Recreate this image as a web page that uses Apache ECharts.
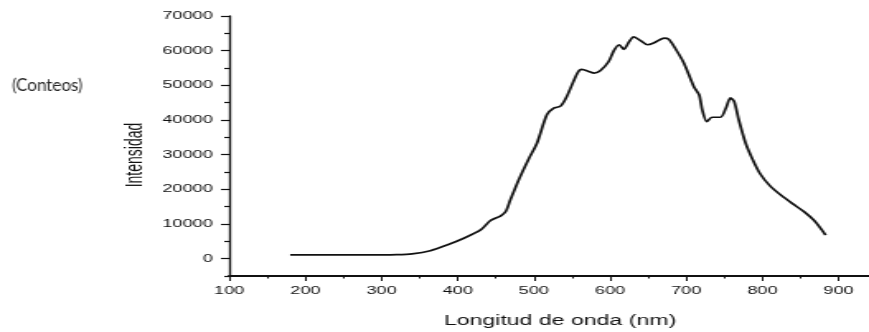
<!DOCTYPE html>
<html>
<head>
<meta charset="utf-8">
<script src="https://cdn.jsdelivr.net/npm/echarts@6/dist/echarts.min.js"></script>
<style>
html,body{margin:0;padding:0;background:#fff;overflow:hidden;width:869px;height:332px;}
#wrap{position:absolute;left:0;top:0;width:527px;height:332px;transform:scaleX(1.649);transform-origin:0 0;}
</style>
</head>
<body>
<div id="wrap"></div>
<script>
// Data
const wavelength = [180,200,250,300,320,340,364,386,408,430,443,456,463,469,480,493,504,517,526,535,543,557,563,572,579,587,598,605,612,618,625,631,640,649,658,671,677,684,697,710,717,721,727,734,745,752,758,763,769,778,787,797,810,825,840,855,868,878,883];
const intensity  = [1100,1100,1100,1100,1150,1400,2300,3950,5900,8300,11000,12300,13600,16900,22700,28700,33300,41500,43400,44000,46700,53500,54600,54000,53500,54200,56800,60000,61700,60400,62600,64000,62900,61700,62300,63600,63300,61200,56400,49600,47200,42900,39500,40800,40800,43400,46400,45300,40000,33300,28700,24500,21000,18200,15800,13500,11000,8300,6800];
const xTickValues = [100,200,300,400,500,600,700,800,900];
const xMinorValues = [150,250,350,450,550,650,750,850];
const yTickValues = [0,10000,20000,30000,40000,50000,60000,70000];
const yMinorValues = [-5000,5000,15000,25000,35000,45000,55000,65000];
const xTitle = 'Longitud de onda (nm)';
const yTitle = 'Intensidad';
const unitLabel = '(Conteos)';

const S = 1.649; // horizontal stretch of the original figure
const chart = echarts.init(document.getElementById('wrap'), null, {renderer:'canvas'});
const points = wavelength.map((w,i)=>[w,intensity[i]]);
const labelFont = {fontFamily:'Liberation Sans, Arial, sans-serif', fontSize:11, color:'#111'};
const plain = v => String(v);

chart.setOption({
  animation:false,
  backgroundColor:'#fff',
  grid:{left:139, right:0, top:16, bottom:56, containLabel:false},
  xAxis:[{
    type:'value', min:100, max:940, position:'bottom',
    axisLine:{show:true, onZero:false, lineStyle:{color:'#111', width:2}},
    axisTick:{show:true, inside:false, length:5, customValues:xTickValues, lineStyle:{color:'#111', width:1}},
    axisLabel:Object.assign({show:true, margin:9, customValues:xTickValues, formatter:plain}, labelFont),
    splitLine:{show:false}
  },{
    type:'value', min:100, max:940, position:'bottom', offset:0,
    axisLine:{show:false, onZero:false},
    axisTick:{show:true, inside:false, length:2.5, customValues:xMinorValues, lineStyle:{color:'#111', width:1}},
    axisLabel:{show:false},
    splitLine:{show:false}
  }],
  yAxis:[{
    type:'value', min:-5000, max:70000, position:'left',
    axisLine:{show:true, onZero:false, lineStyle:{color:'#111', width:1.3}},
    axisTick:{show:true, inside:false, length:5, customValues:yTickValues, lineStyle:{color:'#111', width:1.2}},
    axisLabel:Object.assign({show:true, margin:10, customValues:yTickValues, formatter:plain}, labelFont),
    splitLine:{show:false}
  },{
    type:'value', min:-5000, max:70000, position:'left', offset:0,
    axisLine:{show:false, onZero:false},
    axisTick:{show:true, inside:false, length:3, customValues:yMinorValues, lineStyle:{color:'#111', width:1.2}},
    axisLabel:{show:false},
    splitLine:{show:false}
  }],
  series:[{
    type:'line', xAxisIndex:0, yAxisIndex:0,
    data:points, showSymbol:false, smooth:0.25,
    lineStyle:{color:'#111', width:1.7}
  }],
  graphic:[
    {type:'text', x:82, y:155, rotation:Math.PI/2,
     style:{text:yTitle, fontFamily:'Liberation Sans, Arial, sans-serif', fontSize:14, fill:'#111', align:'center', verticalAlign:'middle'}},
    {type:'text', x:560/S, y:321,
     style:{text:xTitle, fontFamily:'Liberation Sans, Arial, sans-serif', fontSize:14, fill:'#111', align:'center', verticalAlign:'middle'}},
    {type:'text', x:12/S, y:86, scaleX:1/S,
     style:{text:unitLabel, fontFamily:'Lato, Noto Sans, sans-serif', fontSize:17, fill:'#222', align:'left', verticalAlign:'middle'}}
  ]
});
</script>
</body>
</html>
